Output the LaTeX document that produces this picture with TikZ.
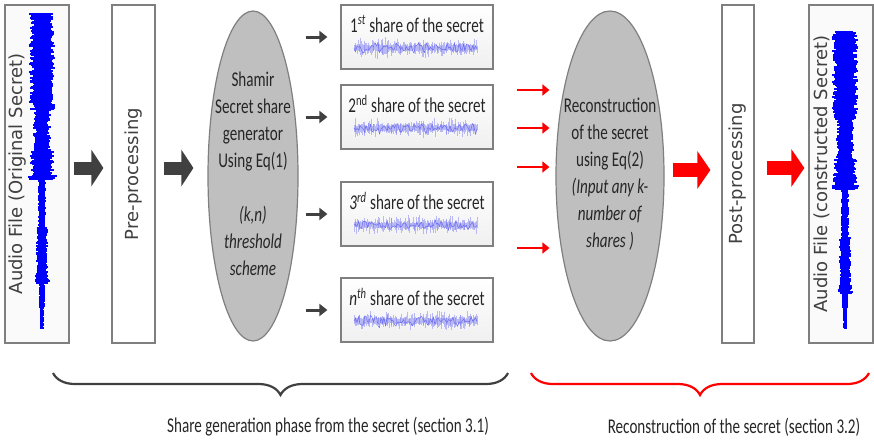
\documentclass[tikz,border=0pt]{standalone}
\usepackage{fontspec}
\setmainfont{Carlito}[FakeStretch=0.72]
\newfontfamily\dejavu{DejaVu Sans}
\usepackage{tikz}
\usetikzlibrary{arrows.meta,positioning,shapes.geometric,decorations.pathreplacing,calc}
\definecolor{arrowDark}{HTML}{404040}
\definecolor{ellFill}{HTML}{BFBFBF}
\definecolor{boxLine}{HTML}{7F7F7F}
\definecolor{waveBlue}{HTML}{0000FF}
\definecolor{shareBlue}{HTML}{6F6FF2}
\definecolor{txtGray}{HTML}{262626}

% vertical audio signal: centre x, top, big peak, bottom
\newcommand{\audiowave}[4]{%
  \foreach \yy in {#2,...,#4}{
    \pgfmathsetmacro\w{(\yy<#3-68)?13:((\yy<#3-28)?9:((\yy<#3-2)?12:((\yy<#3+2)?16:((\yy<#3+50)?4:((\yy<#3+98)?6:((\yy<#3+106)?8:((\yy<#4-20)?3.5:2.2)))))))}
    \draw[wavestroke] ({#1-\w*(0.55+0.45*rnd)},\yy) -- ({#1+\w*(0.55+0.45*rnd)},\yy);
  }}
% small horizontal share signal at height #1
\newcommand{\sharewave}[1]{%
  \foreach \i in {0,...,150}{
    \draw[sharestroke, opacity=0.45] ({354+\i*0.82},{#1-2-9*rnd*rnd}) -- ({354+\i*0.82},{#1+2+9*rnd*rnd});
  }
  \draw[sharestroke] (354,#1) \foreach \i in {1,...,82}{ -- ({354+\i*1.5},{#1+(2+5*rnd)*rand}) };}

\begin{document}
\begin{tikzpicture}[
        x=1pt, y=-1pt,
        tallbox/.style={
            draw=boxLine,
            line width=1.2pt,
            fill=gray!4,
            minimum width=64pt,
            minimum height=338pt,
            inner sep=0pt
        },
        stepbox/.style={
            tallbox,
            fill=white
        },
        sharebox/.style={
            draw=boxLine,
            line width=1.2pt,
            top color=white,
            bottom color=gray!12,
            minimum width=152pt,
            minimum height=64pt,
            inner sep=0pt
        },
        bigell/.style={
            ellipse,
            draw=boxLine,
            line width=1.2pt,
            fill=ellFill,
            inner sep=0pt
        },
        elltext/.style={
            align=center,
            text=txtGray,
            font=\fontsize{21}{27}\selectfont
        },
        sharetext/.style={
            text=txtGray,
            inner sep=0pt,
            font=\fontsize{21}{25}\selectfont
        },
        sidetext/.style={
            rotate=90,
            text=arrowDark,
            inner sep=0pt,
            font=\dejavu\fontsize{18}{22}\selectfont
        },
        phaselabel/.style={
            text=txtGray,
            inner sep=0pt,
            font=\fontsize{21}{25}\selectfont
        },
        wavestroke/.style={
            draw=waveBlue,
            line width=1.1pt
        },
        sharestroke/.style={
            draw=shareBlue,
            line width=0.55pt,
            line join=round
        },
        darkblock/.style={
            draw=arrowDark,
            line width=13pt,
            -{Triangle[length=12pt,width=36pt]}
        },
        redblock/.style={
            draw=red,
            line width=14pt,
            -{Triangle[length=13pt,width=37pt]}
        },
        darksmall/.style={
            draw=arrowDark,
            line width=3pt,
            -{Triangle[length=8pt,width=12pt]}
        },
        redsmall/.style={
            draw=red,
            line width=2.5pt,
            -{Triangle[length=7pt,width=11pt]}
        },
        phasebrace/.style={
            line width=2.2pt,
            decorate,
            decoration={brace,mirror,amplitude=22pt}
        }
    ]

    \useasboundingbox (0,0) rectangle (874,440);
    \pgfmathsetseed{11}

    % share generation side
    \node[tallbox] (audioA) at (37,174) {};
    \audiowave{42}{14}{178}{328}
    \node[sidetext] (audioAt) at ([xshift=-19pt]audioA.center) {Audio File (Original Secret)};

    \node[stepbox, minimum width=43pt] (pre) at (133.5,174) {};
    \node[sidetext] (pret) at (pre.center) {Pre-processing};

    \node[bigell, minimum width=90pt, minimum height=330pt] (gen) at (253,176) {};
    \node[elltext] (gent) at ([yshift=2pt]gen.center) {Shamir\\Secret share\\generator\\Using Eq(1)\\[27pt]\textit{(k,n)}\\\textit{threshold}\\\textit{scheme}};

    \draw[darkblock, shorten <=4pt, shorten >=8pt] ([yshift=6pt]audioA.east) -- ([yshift=6pt]pre.west);
    \draw[darkblock, shorten <=8pt, shorten >=14pt] ([yshift=6pt]pre.east) -- ([yshift=6pt]pre.east -| gen.west);

    \foreach \n/\yc/\lab in {1/37/{1\textsuperscript{\itshape st}},2/117/{2\textsuperscript{nd}},3/214/{\textit{3\textsuperscript{rd}}},4/310/{\textit{n\textsuperscript{th}}}}{
        \node[sharebox] (s\n) at (417,\yc) {};
        \node[sharetext] (s\n t) at ([yshift=13pt]s\n.center) {\lab\ share of the secret};
        \pgfmathtruncatemacro\wy{\yc+11}
        \sharewave{\wy}
        \draw[darksmall, shorten <=7pt, shorten >=13pt] (gen.east |- s\n.west) -- (s\n.west);
    }

    % reconstruction side
    \node[bigell, minimum width=108pt, minimum height=330pt] (rec) at (610,176) {};
    \node[elltext] (rect) at ([yshift=2pt]rec.center) {Reconstruction\\of the secret\\using Eq(2)\\\textit{(Input any k-}\\\textit{number of}\\\textit{shares )}};

    \foreach \yy in {90,128,167,248}{
        \coordinate (in\yy) at (517,\yy);
        \draw[redsmall, shorten >=6pt] (in\yy) -- (in\yy -| rec.west);
    }

    \node[stepbox, minimum width=32pt] (post) at (738,174) {};
    \node[sidetext] (postt) at (post.center) {Post-processing};

    \node[tallbox] (audioB) at (841,174) {};
    \audiowave{845}{32}{188}{328}
    \node[sidetext] (audioBt) at ([xshift=-19pt]audioB.center) {Audio File (constructed Secret)};

    \draw[redblock, shorten <=8pt, shorten >=11pt] ([yshift=6pt]rec.east) -- ([yshift=6pt]rec.east -| post.west);
    \draw[redblock, shorten <=12pt, shorten >=4pt] ([yshift=6pt]post.east) -- ([yshift=6pt]audioB.west);

    % phases
    \draw[phasebrace, arrowDark] (53,373) -- (508,373);
    \draw[phasebrace, red] (531,373) -- (869,373);
    \node[phaselabel] (phaseA) at (328,427) {Share generation phase from the secret (section 3.1)};
    \node[phaselabel] (phaseB) at (734,427) {Reconstruction of the secret (section 3.2)};

\end{tikzpicture}
\end{document}
